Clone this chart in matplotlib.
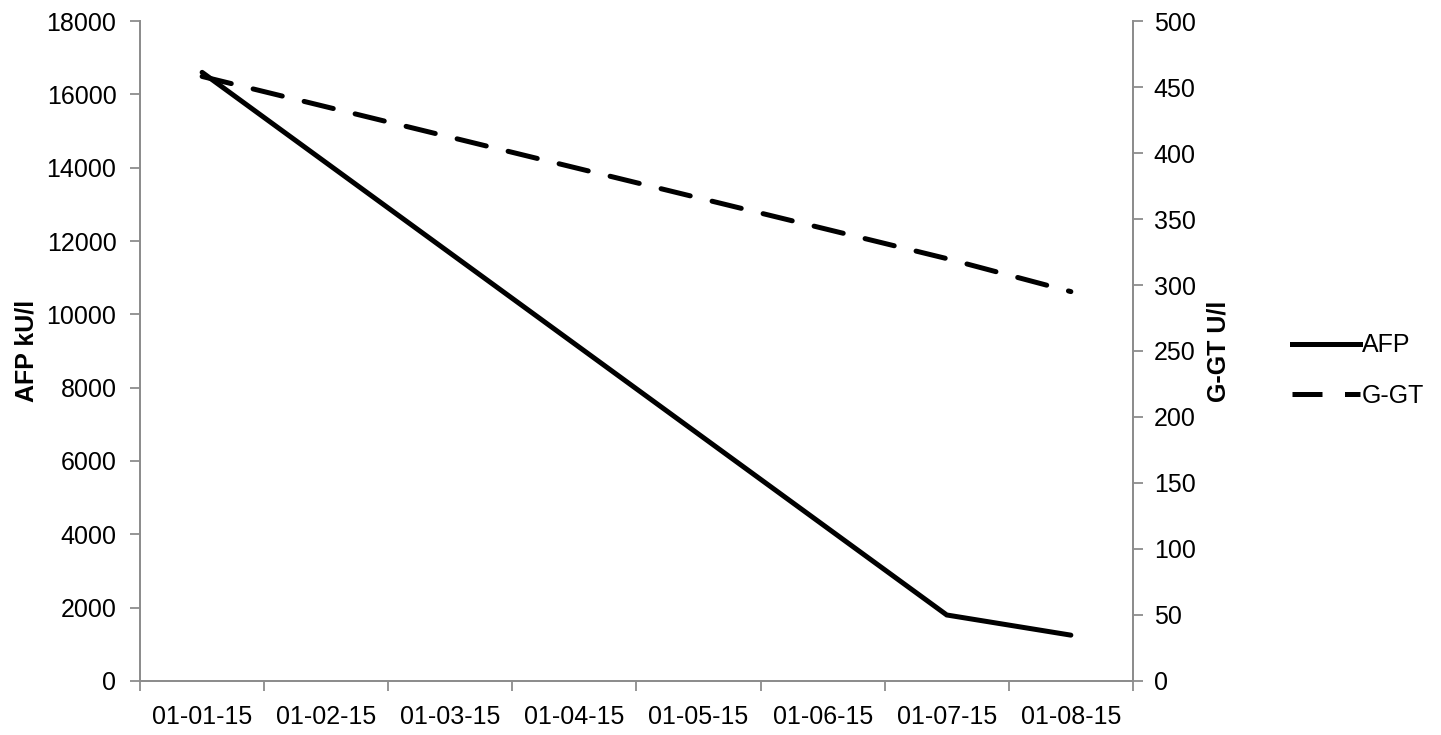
import matplotlib.pyplot as plt
from matplotlib.lines import Line2D

plt.rcParams["font.family"] = ["Liberation Sans", "DejaVu Sans"]

dates = ["01-01-15", "01-02-15", "01-03-15", "01-04-15",
         "01-05-15", "01-06-15", "01-07-15", "01-08-15"]
sample_idx = [0, 6, 7]
afp = [16600, 1800, 1250]
ggt = [458, 320, 295]

AXIS_GREY = "#8c8c8c"
FS = 18

fig = plt.figure(figsize=(14.41, 7.35), dpi=100)
ax = fig.add_axes([0.0972, 0.0735, 0.689, 0.8979])
ax2 = ax.twinx()

ax.plot(sample_idx, afp, color="black", lw=3.6, solid_capstyle="round",
        solid_joinstyle="miter")
ax2.plot(sample_idx, ggt, color="black", lw=3.6, dashes=(6, 4.5),
         dash_capstyle="round")

n = len(dates)
ax.set_xlim(-0.5, n - 0.5)
ax.set_xticks([i - 0.5 for i in range(n + 1)])
ax.set_xticklabels([])
ax.set_xticks(range(n), minor=True)
ax.set_xticklabels(dates, minor=True)
ax.tick_params(axis="x", which="minor", length=0, pad=17, labelsize=FS)
ax.tick_params(axis="x", which="major", length=7, width=1.3, color=AXIS_GREY)

ax.set_ylim(0, 18000)
ax.set_yticks(range(0, 18001, 2000))
ax2.set_ylim(0, 500)
ax2.set_yticks(range(0, 501, 50))

ax.tick_params(axis="y", length=7, width=1.3, color=AXIS_GREY, labelsize=FS, pad=10)
ax2.tick_params(axis="y", length=7, width=1.3, color=AXIS_GREY, labelsize=FS, pad=8)
for a in (ax, ax2):
    a.spines["top"].set_visible(False)
    for s in ("left", "right", "bottom"):
        a.spines[s].set_color(AXIS_GREY)
        a.spines[s].set_linewidth(1.3)

ax.set_ylabel("AFP kU/l", fontsize=FS, fontweight="bold", labelpad=6)
ax2.set_ylabel("G-GT U/l", fontsize=FS, fontweight="bold", labelpad=8)

handles = [Line2D([], [], color="black", lw=3.6),
           Line2D([], [], color="black", lw=3.6, dashes=(6, 4.5))]
fig.legend(handles, ["AFP", "G-GT"], loc="center left",
           bbox_to_anchor=(0.881, 0.496), frameon=False, fontsize=FS,
           handlelength=2.7, handletextpad=0.1, labelspacing=1.05)

fig.savefig("out.png", dpi=100)
